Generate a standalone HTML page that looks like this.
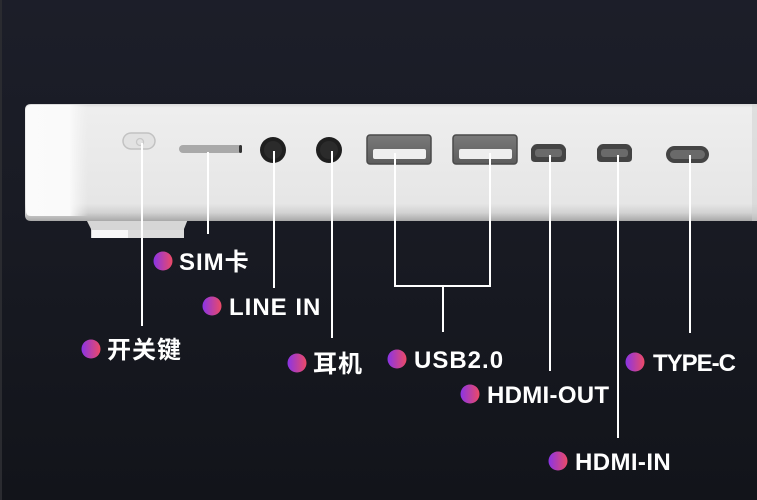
<!DOCTYPE html>
<html><head><meta charset="utf-8"><style>
html,body{margin:0;padding:0;background:#171921;}
svg{display:block;}
text{font-family:"Liberation Sans","Noto Sans CJK SC",sans-serif;font-weight:bold;font-size:24px;fill:#ffffff;}
</style></head><body>
<svg width="757" height="500" viewBox="0 0 757 500" xmlns="http://www.w3.org/2000/svg">
<defs>
<linearGradient id="bg" x1="0" y1="0" x2="0" y2="1">
<stop offset="0" stop-color="#1c1e29"/><stop offset="0.4" stop-color="#191b24"/><stop offset="1" stop-color="#12141a"/>
</linearGradient>
<linearGradient id="dot" x1="0" y1="0" x2="1" y2="0">
<stop offset="0" stop-color="#8a34e6"/><stop offset="1" stop-color="#ec4a66"/>
</linearGradient>
<linearGradient id="body" x1="0" y1="0" x2="0" y2="1">
<stop offset="0" stop-color="#d9d9d9"/><stop offset="0.03" stop-color="#eeeeee"/><stop offset="0.85" stop-color="#e6e6e6"/><stop offset="0.93" stop-color="#d2d2d2"/><stop offset="1" stop-color="#a9a9a9"/>
</linearGradient>
<linearGradient id="left" x1="0" y1="0" x2="1" y2="0">
<stop offset="0" stop-color="#fbfbfb" stop-opacity="1"/><stop offset="0.7" stop-color="#fafafa" stop-opacity="1"/><stop offset="1" stop-color="#f4f4f4" stop-opacity="0"/>
</linearGradient>
<linearGradient id="usb" x1="0" y1="0" x2="0" y2="1">
<stop offset="0" stop-color="#7a7a7a"/><stop offset="1" stop-color="#5c5c5c"/>
</linearGradient>
</defs>
<rect width="757" height="500" fill="url(#bg)"/>
<rect x="0" y="0" width="2" height="500" fill="#2a2b30"/>

<!-- foot -->
<path d="M86 219 H188 L184 229 V238 H91 V229 Z" fill="#d6d6d6"/>
<rect x="92" y="230" width="36" height="8" fill="#f7f7f7"/>
<rect x="128" y="230" width="56" height="8" fill="#dcdcdc"/>

<!-- body -->
<path d="M31 104 H757 V221 H31 Q25 221 25 215 V110 Q25 104 31 104 Z" fill="url(#body)"/>
<path d="M31 105 H88 V216 H31 Q26 216 26 211 V111 Q26 105 31 105 Z" fill="url(#left)"/>
<rect x="752" y="104" width="5" height="117" fill="#d0d0d0" opacity="0.5"/>

<!-- power button -->
<rect x="123" y="133" width="32" height="16" rx="8" fill="#e2e2e2" stroke="#c2c2c2" stroke-width="1.5"/>
<circle cx="140" cy="142" r="3.5" fill="none" stroke="#c8c8c8" stroke-width="1.3"/>
<!-- SIM -->
<rect x="179" y="145" width="63" height="8" rx="4" fill="#a9a9a9"/>
<rect x="239" y="145" width="3" height="8" rx="1.5" fill="#333"/>
<!-- jacks -->
<circle cx="273" cy="150" r="13" fill="#1f1f1f"/><circle cx="273" cy="150" r="9" fill="#2b2b2b"/>
<circle cx="329" cy="150" r="13" fill="#1f1f1f"/><circle cx="329" cy="150" r="9" fill="#2b2b2b"/>
<!-- USB -->
<rect x="367" y="135" width="64" height="29" rx="3" fill="url(#usb)" stroke="#4a4a4a" stroke-width="1.5"/>
<rect x="373" y="149" width="53" height="10" rx="2" fill="#eeeeee"/>
<rect x="453" y="135" width="64" height="29" rx="3" fill="url(#usb)" stroke="#4a4a4a" stroke-width="1.5"/>
<rect x="459" y="149" width="53" height="10" rx="2" fill="#eeeeee"/>
<!-- micro HDMI -->
<path d="M537 144 H560 Q563 144 565 147 L566 149 V158 Q566 162 562 162 H535 Q531 162 531 158 V149 L532 147 Q534 144 537 144 Z" fill="#444"/>
<rect x="535" y="149" width="27" height="8" rx="3" fill="#6a6a6a"/>
<path d="M603 144 H626 Q629 144 631 147 L632 149 V158 Q632 162 628 162 H601 Q597 162 597 158 V149 L598 147 Q600 144 603 144 Z" fill="#444"/>
<rect x="601" y="149" width="27" height="8" rx="3" fill="#6a6a6a"/>
<!-- Type-C -->
<rect x="666" y="146" width="43" height="17" rx="8.5" fill="#444"/>
<rect x="670" y="150" width="35" height="9" rx="4.5" fill="#6a6a6a"/>

<!-- leader lines -->
<g stroke="#ffffff" stroke-width="2" fill="none">
<line x1="142" y1="143" x2="142" y2="326"/>
<line x1="208" y1="152" x2="208" y2="234"/>
<line x1="274" y1="151" x2="274" y2="288"/>
<line x1="332" y1="151" x2="332" y2="338"/>
<polyline points="395,153 395,286 490,286 490,153"/>
<line x1="443" y1="286" x2="443" y2="332"/>
<line x1="550" y1="155" x2="550" y2="371"/>
<line x1="618" y1="155" x2="618" y2="438"/>
<line x1="690" y1="155" x2="690" y2="333"/>
</g>

<!-- labels -->
<circle cx="163" cy="261" r="9.5" fill="url(#dot)"/>
<text x="179" y="270" letter-spacing="1">SIM卡</text>
<circle cx="212" cy="306" r="9.5" fill="url(#dot)"/>
<text x="229" y="315" letter-spacing="1">LINE IN</text>
<circle cx="91" cy="349" r="9.5" fill="url(#dot)"/>
<text x="107" y="358" font-size="25" letter-spacing="1">开关键</text>
<circle cx="297" cy="363" r="9.5" fill="url(#dot)"/>
<text x="313" y="372" font-size="25" letter-spacing="1">耳机</text>
<circle cx="397" cy="359" r="9.5" fill="url(#dot)"/>
<text x="414" y="368" letter-spacing="1">USB2.0</text>
<circle cx="470" cy="394" r="9.5" fill="url(#dot)"/>
<text x="487" y="403" letter-spacing="0.3">HDMI-OUT</text>
<circle cx="558" cy="461" r="9.5" fill="url(#dot)"/>
<text x="575" y="470" letter-spacing="0.4">HDMI-IN</text>
<circle cx="635" cy="362" r="9.5" fill="url(#dot)"/>
<text x="653" y="371" letter-spacing="-1">TYPE-C</text>
</svg>
</body></html>
